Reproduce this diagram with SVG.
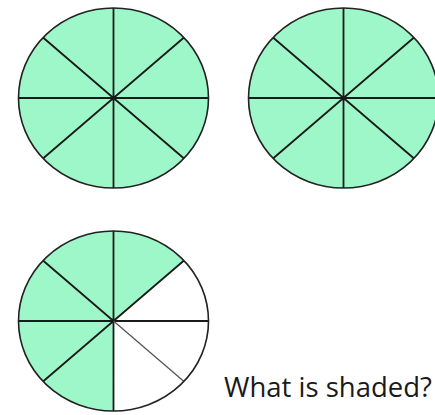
<svg xmlns="http://www.w3.org/2000/svg" width="435" height="415" viewBox="0 0 435 415">
<style>
.fill{fill:#9ef7c9}
.rim{fill:none;stroke:#222;stroke-width:1.6}
.sp{stroke:#1a1a1a;stroke-width:1.8;fill:none}
.txt{font-family:"Open Sans","Liberation Sans",sans-serif;font-size:27.5px;fill:#1a1a1a}
</style>
<rect width="435" height="415" fill="#fff"/>
<g id="circle1">
<ellipse cx="113.5" cy="98" rx="95" ry="90" class="fill"/>
<path class="sp" d="M113.5 8V188M18.5 98H208.5M43 37.5L184 158.5M184 37.5L43 158.5"/>
<ellipse cx="113.5" cy="98" rx="95" ry="90" class="rim"/>
</g>
<g id="circle2">
<ellipse cx="343.5" cy="98" rx="95" ry="90" class="fill"/>
<path class="sp" d="M343.5 8V188M248.5 98H438.5M273 37.5L414 158.5M414 37.5L273 158.5"/>
<ellipse cx="343.5" cy="98" rx="95" ry="90" class="rim"/>
</g>
<g id="circle3">
<ellipse cx="113.5" cy="321" rx="95" ry="90" fill="#fff"/>
<path class="fill" d="M113.5 321L184 260.5A95 90 0 1 0 113.5 411Z"/>
<path class="sp" d="M113.5 231V411M18.5 321H208.5M43 260.5L113.5 321M184 260.5L43 381.5"/>
<path d="M113.5 321L184 381.5" stroke="#555" stroke-width="1.3"/>
<ellipse cx="113.5" cy="321" rx="95" ry="90" class="rim"/>
</g>
<text x="224" y="397" class="txt">What is shaded?</text>
</svg>
